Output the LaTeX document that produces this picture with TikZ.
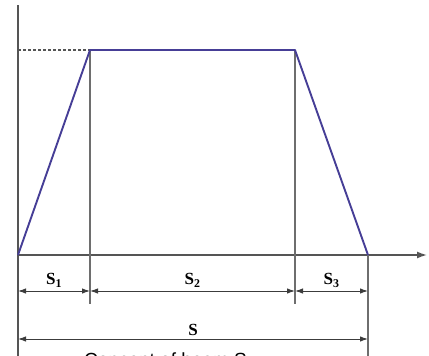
\documentclass[tikz,border=0pt]{standalone}
\usepackage{fontspec}
\setmainfont{Liberation Serif}
\newfontfamily\capfont{Liberation Sans}
\usetikzlibrary{arrows.meta}
\definecolor{axisgray}{RGB}{85,85,85}
\definecolor{profile}{RGB}{70,62,150}
\newcommand{\seg}[1]{\textbf{S}$_{\mathbf{#1}}$}

\begin{document}
\begin{tikzpicture}[x=1pt, y=-1pt,
    ax/.style={draw=axisgray, line width=1.4pt},
    pr/.style={draw=profile, line width=1.9pt, line join=round},
    dim/.style={{Latex[length=8pt,width=5.5pt]}-{Latex[length=8pt,width=5.5pt]},
                draw=axisgray!70!black, line width=1pt},
    lbl/.style={font=\fontsize{17}{17}\selectfont\bfseries, inner sep=1pt}]
  \clip (0,0) rectangle (429,356);
  % axes
  \coordinate (top) at (18,5);
  \coordinate (o) at (18,255);
  \coordinate (xend) at (427,255);
  \coordinate (bot) at (18,356);
  \draw[ax] (top) -- (bot);
  \draw[ax, -{Latex[length=10pt,width=7pt]}] (o) -- (xend);
  % velocity profile
  \coordinate (a) at (90,50);
  \coordinate (b) at (295,50);
  \coordinate (c) at (368,255);
  \coordinate (ya) at (18,50);
  \draw[dash pattern=on 3pt off 2pt, draw=axisgray, line width=1.4pt] (ya) -- (a);
  \coordinate (a1) at (90,304);
  \coordinate (b1) at (295,304);
  \coordinate (c1) at (368,356);
  \draw[ax, draw=axisgray!85] (a) -- (a1);
  \draw[ax, draw=axisgray!85] (b) -- (b1);
  \draw[ax, draw=axisgray!85] (c) -- (c1);
  \draw[pr] (o) -- (a) -- (b) -- (c);
  % dimensions
  \coordinate (d0) at (18,291);
  \coordinate (d1) at (90,291);
  \coordinate (d2) at (295,291);
  \coordinate (d3) at (368,291);
  \draw[dim] (d0) -- node[lbl, above=2pt] (s1) {\seg{1}} (d1);
  \draw[dim] (d1) -- node[lbl, above=2pt] (s2) {\seg{2}} (d2);
  \draw[dim] (d2) -- node[lbl, above=2pt] (s3) {\seg{3}} (d3);
  \coordinate (e0) at (18,339);
  \coordinate (e3) at (368,339);
  \draw[dim] (e0) -- node[lbl, above=2pt] (s) {S} (e3);
  \node[font=\capfont\fontsize{19}{19}\selectfont, anchor=base west, inner sep=0pt]
    (cap) at (84,366) {Concept of beam S};
\end{tikzpicture}
\end{document}
